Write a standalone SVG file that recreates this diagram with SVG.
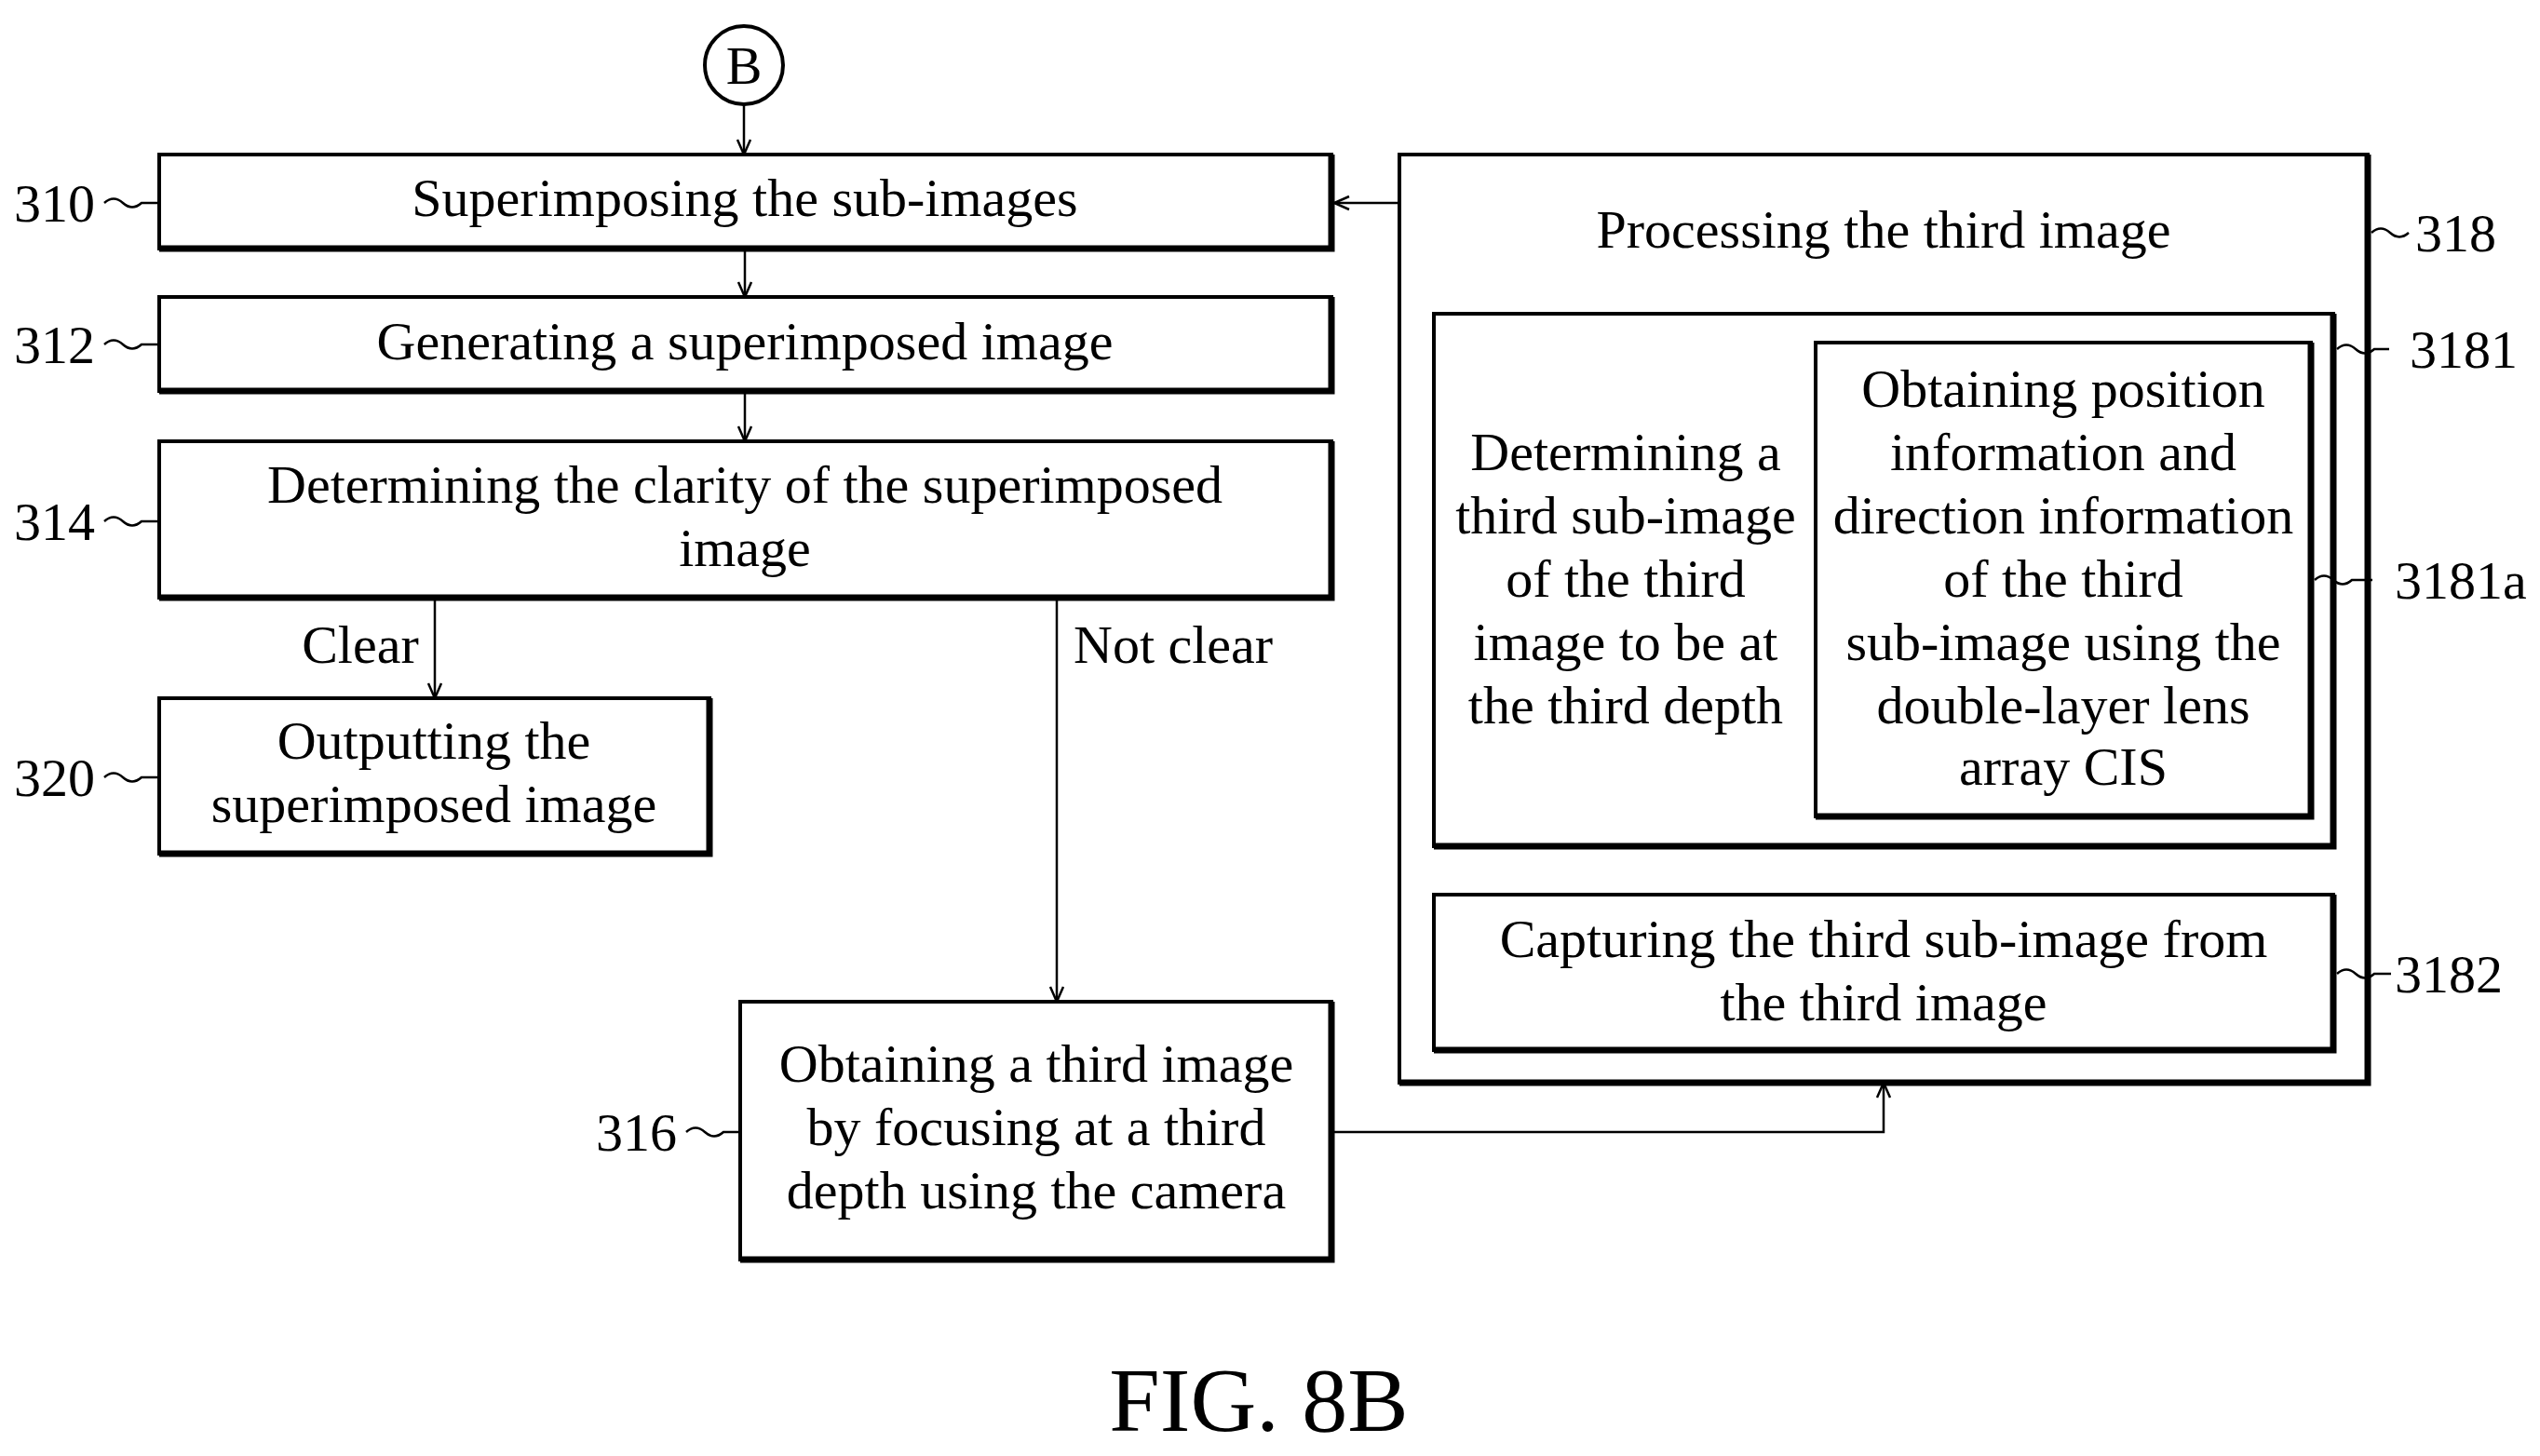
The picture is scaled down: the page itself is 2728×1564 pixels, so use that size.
<svg xmlns="http://www.w3.org/2000/svg" width="2728" height="1564" viewBox="0 0 2728 1564">
<style>
text{font-family:"Liberation Serif","Times New Roman",serif;font-size:58px;fill:#000}
.c{text-anchor:middle}
.b{fill:none;stroke:#000;stroke-width:4}
.sh{fill:none;stroke:#000;stroke-width:7}
.l{fill:none;stroke:#000;stroke-width:2.5}
.t{fill:none;stroke:#000;stroke-width:2.5}
</style>
<defs>
<marker id="a" viewBox="0 0 20 20" refX="18" refY="10" markerWidth="20" markerHeight="20" markerUnits="userSpaceOnUse" orient="auto"><path d="M2,3 L18,10 L2,17" fill="none" stroke="#000" stroke-width="2.5"/></marker>
</defs>
<rect width="2728" height="1564" fill="#fff"/>
<g id="B"><circle cx="799" cy="70" r="42" class="b"/><text x="799" y="90" class="c">B</text></g>
<g id="n310"><rect x="171" y="166" width="1259" height="101" class="b"/><path d="M171,267 H1430 V166" class="sh"/><text x="800" y="232" class="c">Superimposing the sub-images</text>
<text x="15" y="238">310</text><path d="M112,218 q10,-9 20,0 t20,0 q10,0 19,0" class="t"/></g>
<g id="n312"><rect x="171" y="319" width="1259" height="101" class="b"/><path d="M171,420 H1430 V319" class="sh"/><text x="800" y="386" class="c">Generating a superimposed image</text>
<text x="15" y="390">312</text><path d="M112,370 q10,-9 20,0 t20,0 q10,0 19,0" class="t"/></g>
<g id="n314"><rect x="171" y="474" width="1259" height="168" class="b"/><path d="M171,642 H1430 V474" class="sh"/><text x="800" y="540" class="c">Determining the clarity of the superimposed</text><text x="800" y="608" class="c">image</text>
<text x="15" y="580">314</text><path d="M112,560 q10,-9 20,0 t20,0 q10,0 19,0" class="t"/></g>
<g id="n320"><rect x="171" y="750" width="591" height="167" class="b"/><path d="M171,917 H762 V750" class="sh"/><text x="466" y="815" class="c">Outputting the</text><text x="466" y="883" class="c">superimposed image</text>
<text x="15" y="855">320</text><path d="M112,835 q10,-9 20,0 t20,0 q10,0 19,0" class="t"/></g>
<g id="n316"><rect x="795" y="1076" width="635" height="277" class="b"/><path d="M795,1353 H1430 V1076" class="sh"/><text x="1113" y="1162" class="c">Obtaining a third image</text><text x="1113" y="1230" class="c">by focusing at a third</text><text x="1113" y="1298" class="c">depth using the camera</text>
<text x="640" y="1236">316</text><path d="M737,1216 q10,-9 20,0 t20,0 q9,0 18,0" class="t"/></g>
<g id="n318"><rect x="1503" y="166" width="1040" height="997" class="b"/><path d="M1503,1163 H2543 V166" class="sh"/><text x="2023" y="266" class="c">Processing the third image</text>
<path d="M2547,250 q10,-9 20,0 t20,0" class="t"/><text x="2594" y="270">318</text></g>
<g id="n3181"><rect x="1540" y="337" width="966" height="572" class="b"/><path d="M1540,909 H2506 V337" class="sh"/>
<text x="1746" y="505" class="c">Determining a</text><text x="1746" y="573" class="c">third sub-image</text><text x="1746" y="641" class="c">of the third</text><text x="1746" y="709" class="c">image to be at</text><text x="1746" y="777" class="c">the third depth</text>
<path d="M2510,375 q10,-9 20,0 t20,0 q8,0 16,0" class="t"/><text x="2588" y="395">3181</text></g>
<g id="n3181a"><rect x="1950" y="368" width="532" height="509" class="b"/><path d="M1950,877 H2482 V368" class="sh"/>
<text x="2216" y="437" class="c">Obtaining position</text><text x="2216" y="505" class="c">information and</text><text x="2216" y="573" class="c">direction information</text><text x="2216" y="641" class="c">of the third</text><text x="2216" y="709" class="c">sub-image using the</text><text x="2216" y="777" class="c">double-layer lens</text><text x="2216" y="843" class="c">array CIS</text>
<path d="M2486,623 q10,-9 20,0 t20,0 q10,0 22,0" class="t"/><text x="2572" y="643">3181a</text></g>
<g id="n3182"><rect x="1540" y="961" width="966" height="167" class="b"/><path d="M1540,1128 H2506 V961" class="sh"/><text x="2023" y="1028" class="c">Capturing the third sub-image from</text><text x="2023" y="1096" class="c">the third image</text>
<path d="M2510,1046 q10,-9 20,0 t20,0 q10,0 18,0" class="t"/><text x="2572" y="1066">3182</text></g>
<g id="connectors">
<path d="M799,112 V166" class="l" marker-end="url(#a)"/>
<path d="M800,267 V319" class="l" marker-end="url(#a)"/>
<path d="M800,420 V474" class="l" marker-end="url(#a)"/>
<path d="M467,642 V750" class="l" marker-end="url(#a)"/>
<path d="M1135,642 V1076" class="l" marker-end="url(#a)"/>
<path d="M1430,1216 H2023 V1163" class="l" marker-end="url(#a)"/>
<path d="M1503,218 H1433" class="l" marker-end="url(#a)"/>
<text x="387" y="712" class="c">Clear</text>
<text x="1153" y="712">Not clear</text>
</g>
<text x="1352" y="1537" class="c" style="font-size:98px">FIG. 8B</text>
</svg>
